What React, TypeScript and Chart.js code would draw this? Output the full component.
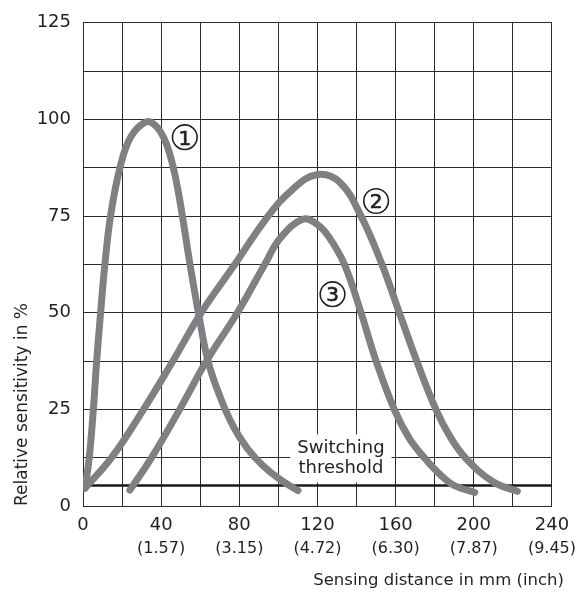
import React, { useEffect, useRef } from "react";
import { Chart, registerables } from "chart.js";

Chart.register(...registerables);

const FONT = "'DejaVu Sans', 'Liberation Sans', sans-serif";
const TEXT = "#231f20";
const CURVE = "#7f8084";
const GRID = "#2b2b2b";

// Axis tick labels
const xTickLabels = [0, 40, 80, 120, 160, 200, 240];
const inchLabels = ["", "(1.57)", "(3.15)", "(4.72)", "(6.30)", "(7.87)", "(9.45)"];
const yTickLabels = [0, 25, 50, 75, 100, 125];

// Curve 1
const curve1X = [1, 3.2, 5.3, 7.0, 9.0, 11.2, 14.1, 18.9, 24.5, 32.5, 37.5, 42, 45.5, 48.5, 51.5, 54.6, 58.9, 64, 70.5, 77, 84, 92, 101, 110];
const curve1Y = [4.6, 12.5, 25, 37.5, 50, 62.5, 75, 87.5, 95.5, 99.4, 98.2, 94.5, 89, 82, 73, 63, 50.5, 37.5, 27.8, 20.5, 15, 10.5, 6.8, 4];

// Curve 2
const curve2X = [1, 14.6, 31, 46, 60.5, 77, 94, 107, 119.5, 131.3, 142.3, 153, 161.9, 170.8, 180.6, 188, 196, 210, 222.3];
const curve2Y = [4.6, 12.5, 25, 37.5, 50, 62, 74.5, 81.8, 85.7, 83.8, 75, 62.5, 50, 37.5, 25, 17.8, 12.3, 6.2, 3.8];

// Curve 3
const curve3X = [24, 35.1, 49.5, 63.2, 79, 93, 101, 112.5, 120, 126, 133.8, 142.3, 150, 159.3, 167, 175.5, 182, 190, 200.5];
const curve3Y = [4.1, 12.5, 25, 37.5, 50, 62.5, 69.3, 74.2, 72.8, 69.5, 62.5, 50, 37.5, 25, 17.5, 12, 8.5, 5.3, 3.5];

// Switching threshold
const thresholdX = [0, 240];
const thresholdY = [5.3, 5.3];

// Curve markers
const markerX = [52.1, 150, 127.7];
const markerY = [95.4, 78.9, 54.8];
const markerText = ["1", "2", "3"];

// Threshold label
const thresholdText = ["Switching", "threshold"];
const thresholdTextX = 132;
const thresholdTextY = [14.9, 9.7];

const xTitle = "Sensing distance in mm (inch)";
const yTitle = "Relative sensitivity in %";

const toPoints = (xs: number[], ys: number[]) => xs.map((x, i) => ({ x, y: ys[i] }));

const annotationPlugin = {
  id: "annotations",
  beforeDatasetsDraw(chart: any) {
    const { ctx, scales } = chart;
    const x = scales.x;
    const y = scales.y;
    ctx.save();
    ctx.font = `18px ${FONT}`;
    const w = Math.max(...thresholdText.map((t) => ctx.measureText(t).width));
    const cx = x.getPixelForValue(thresholdTextX);
    const top = y.getPixelForValue(thresholdTextY[0]) - 14;
    const bottom = y.getPixelForValue(thresholdTextY[thresholdTextY.length - 1]) + 14;
    ctx.fillStyle = "#ffffff";
    ctx.fillRect(cx - w / 2 - 7, top, w + 14, bottom - top);
    ctx.restore();
  },
  afterDatasetsDraw(chart: any) {
    const { ctx, scales } = chart;
    const x = scales.x;
    const y = scales.y;
    ctx.save();
    ctx.font = `18px ${FONT}`;
    ctx.fillStyle = TEXT;
    ctx.textAlign = "center";
    ctx.textBaseline = "middle";
    const cx = x.getPixelForValue(thresholdTextX);
    thresholdText.forEach((t, i) => {
      ctx.fillText(t, cx, y.getPixelForValue(thresholdTextY[i]));
    });
    markerText.forEach((t, i) => {
      const px = x.getPixelForValue(markerX[i]);
      const py = y.getPixelForValue(markerY[i]);
      ctx.beginPath();
      ctx.arc(px, py, 12.3, 0, Math.PI * 2);
      ctx.fillStyle = "#ffffff";
      ctx.fill();
      ctx.lineWidth = 1.6;
      ctx.strokeStyle = TEXT;
      ctx.stroke();
      ctx.font = `20px ${FONT}`;
      ctx.fillStyle = TEXT;
      ctx.textAlign = "center";
      ctx.textBaseline = "alphabetic";
      ctx.fillText(t, px, py + 7.3);
      ctx.lineWidth = 0.7;
      ctx.strokeText(t, px, py + 7.3);
    });
    ctx.restore();
  },
  afterDraw(chart: any) {
    const { ctx } = chart;
    const x = chart.scales.x;
    ctx.save();
    ctx.font = `16.5px ${FONT}`;
    ctx.fillStyle = TEXT;
    ctx.textAlign = "right";
    ctx.textBaseline = "alphabetic";
    ctx.fillText(xTitle, x.right + 12, 585);
    ctx.restore();
  },
};

export default function App() {
  const ref = useRef<HTMLCanvasElement>(null);

  useEffect(() => {
    document.body.style.margin = "0";
    const canvas = ref.current;
    if (!canvas) return;
    const curveStyle = {
      showLine: true,
      borderColor: CURVE,
      borderWidth: 7,
      pointRadius: 0,
      borderCapStyle: "round",
      borderJoinStyle: "round",
      tension: 0.4,
      fill: false,
    };
    const chart = new Chart(canvas, {
      type: "scatter",
      data: {
        datasets: [
          { label: "1", data: toPoints(curve1X, curve1Y), ...curveStyle } as any,
          { label: "2", data: toPoints(curve2X, curve2Y), ...curveStyle } as any,
          { label: "3", data: toPoints(curve3X, curve3Y), ...curveStyle } as any,
          {
            label: "threshold",
            data: toPoints(thresholdX, thresholdY),
            showLine: true,
            borderColor: "#1a1a1a",
            borderWidth: 2.5,
            pointRadius: 0,
            fill: false,
          } as any,
        ],
      },
      options: {
        responsive: false,
        animation: false,
        layout: { padding: { top: 20, right: 26, left: 0, bottom: 0 } },
        plugins: {
          legend: { display: false },
          tooltip: { enabled: false },
          title: { display: false },
        },
        scales: {
          x: {
            type: "linear",
            position: "bottom",
            weight: 0,
            min: 0,
            max: 240,
            afterFit: (s: any) => {
              s.height = 30;
            },
            ticks: {
              stepSize: 20,
              autoSkip: false,
              maxRotation: 0,
              padding: 9,
              color: TEXT,
              font: { family: FONT, size: 18 },
              callback: (v: any) => (xTickLabels.includes(Number(v)) ? String(v) : ""),
            },
            grid: { color: GRID, lineWidth: 1, drawTicks: false },
            border: { color: GRID, width: 1 },
          },
          x2: {
            type: "linear",
            position: "bottom",
            weight: 1,
            min: 0,
            max: 240,
            afterFit: (s: any) => {
              s.height = 60;
            },
            ticks: {
              stepSize: 20,
              autoSkip: false,
              maxRotation: 0,
              padding: 3,
              color: TEXT,
              font: { family: FONT, size: 16 },
              callback: (v: any) => {
                const i = xTickLabels.indexOf(Number(v));
                return i >= 0 ? inchLabels[i] : "";
              },
            },
            grid: { display: false, drawTicks: false },
            border: { display: false },
          },
          y: {
            type: "linear",
            min: 0,
            max: 125,
            afterFit: (s: any) => {
              s.width = 83;
            },
            ticks: {
              stepSize: 12.5,
              autoSkip: false,
              padding: 12,
              color: TEXT,
              font: { family: FONT, size: 18 },
              callback: (v: any) => (yTickLabels.includes(Number(v)) ? String(v) : ""),
            },
            grid: { color: GRID, lineWidth: 1, drawTicks: false },
            border: { color: GRID, width: 1 },
            title: {
              display: true,
              text: yTitle,
              align: "start",
              color: TEXT,
              font: { family: FONT, size: 17 },
              padding: { top: 12, bottom: 0 },
            },
          },
        },
      } as any,
      plugins: [annotationPlugin],
    });
    return () => chart.destroy();
  }, []);

  return (
    <div style={{ position: "absolute", left: 0, top: 0, width: 579, height: 596 }}>
      <canvas ref={ref} width={579} height={596} style={{ display: "block", width: 579, height: 596 }} />
    </div>
  );
}
